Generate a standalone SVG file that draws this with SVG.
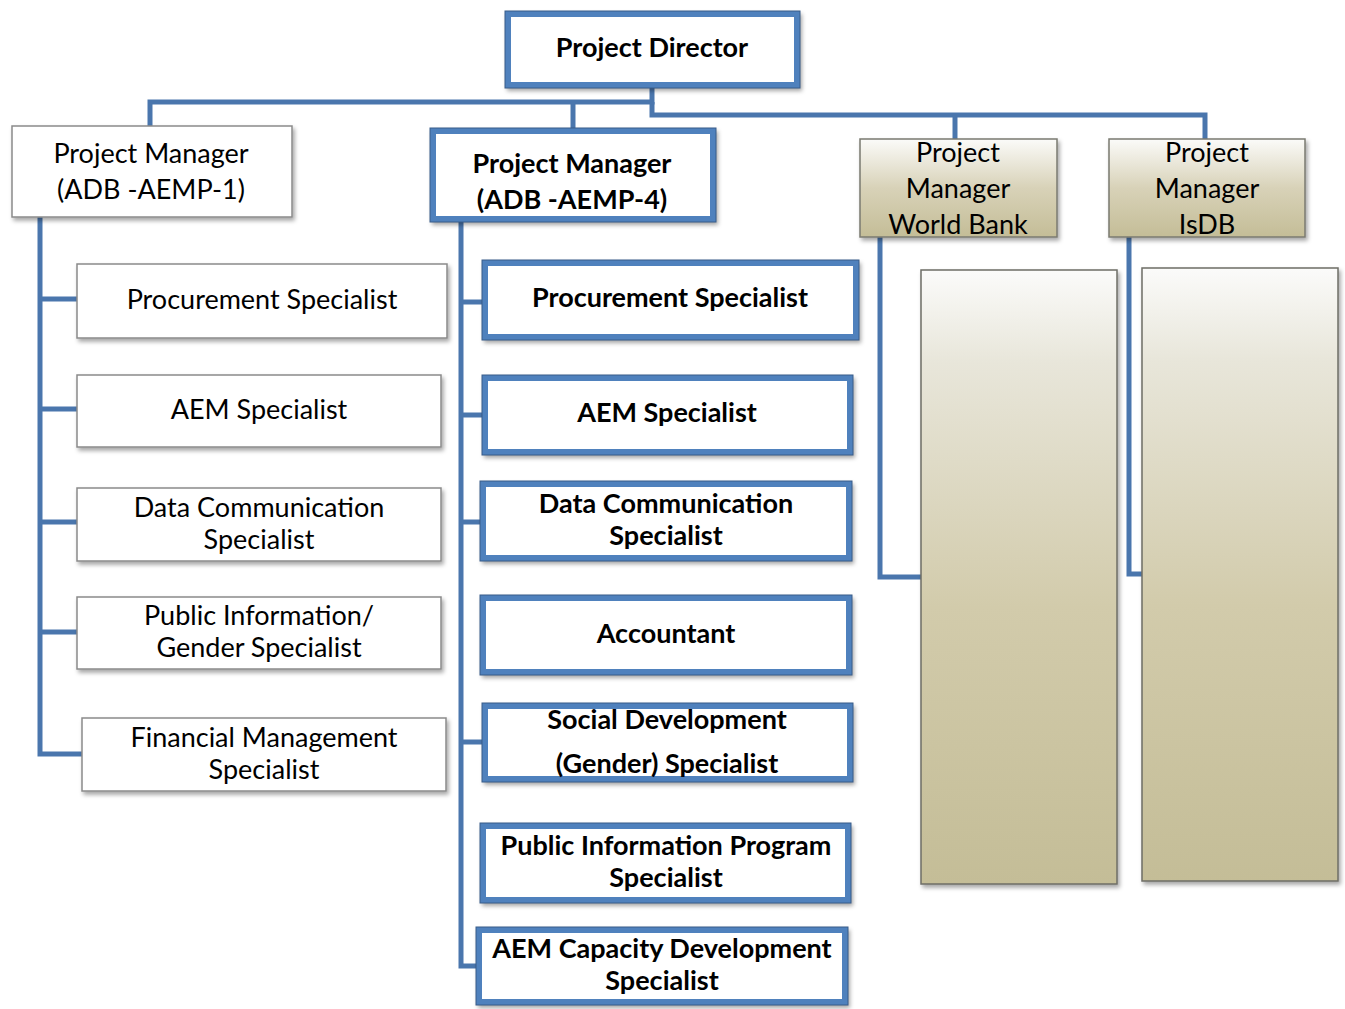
<svg xmlns="http://www.w3.org/2000/svg" width="1345" height="1009" viewBox="0 0 1345 1009">
<defs>
<filter id="sh" x="-10%" y="-10%" width="130%" height="140%">
<feDropShadow dx="2" dy="3" stdDeviation="2" flood-color="#000" flood-opacity="0.35"/>
</filter>
<linearGradient id="tan" x1="0" y1="0" x2="0" y2="1">
<stop offset="0" stop-color="#fbfbf9"/>
<stop offset="0.5" stop-color="#d8d2b8"/>
<stop offset="1" stop-color="#c4bd97"/>
</linearGradient>
<linearGradient id="tan2" x1="0" y1="0" x2="0" y2="1">
<stop offset="0" stop-color="#fbfbfa"/>
<stop offset="0.15" stop-color="#e8e6da"/>
<stop offset="0.55" stop-color="#d2cbab"/>
<stop offset="1" stop-color="#c4bd97"/>
</linearGradient>
</defs>
<style>
.plain{fill:#fff;stroke:#8a8a8a;stroke-width:1.5;filter:url(#sh)}
.blue{fill:#fff;stroke:#4f81bd;stroke-width:6;filter:url(#sh)}
.blueo{fill:none;stroke:#385d8a;stroke-width:1}
.tanb{fill:url(#tan);stroke:#7a7a70;stroke-width:1.5;filter:url(#sh)}
.tanc{fill:url(#tan2);stroke:#6e6e66;stroke-width:1.5;filter:url(#sh)}
.t{font-family:Lato,"Open Sans",sans-serif;font-size:27px;fill:#000;text-anchor:middle}
.b{font-family:Lato,"Open Sans",sans-serif;font-size:27px;font-weight:bold;fill:#000;text-anchor:middle}
.c{fill:none;stroke:#4a76ad;stroke-width:5}
</style>
<g id="connectors">
<path class="c" d="M652,88 V102 H150 V126"/>
<path class="c" d="M573,102 V128"/>
<path class="c" d="M652,102 V115 H1205 V139"/>
<path class="c" d="M955,115 V139"/>
<path class="c" d="M40,217 V754 H82"/>
<path class="c" d="M40,299 H77 M40,409 H77 M40,522 H77 M40,632 H77"/>
<path class="c" d="M461,222 V966 H476"/>
<path class="c" d="M461,302 H482 M461,415 H482 M461,522 H480 M461,742 H482"/>
<path class="c" d="M880,237 V577 H921"/>
<path class="c" d="M1129,237 V574 H1142"/>
</g>
<g id="director">
<rect class="blue" x="508" y="14" width="289" height="71"/>
<rect class="blueo" x="505" y="11" width="295" height="77"/>
<text class="b" x="652" y="57">Project Director</text>
</g>
<g id="pm1">
<rect class="plain" x="12" y="126" width="280" height="91"/>
<text class="t" x="151" y="163">Project Manager</text>
<text class="t" x="151" y="199">(ADB -AEMP-1)</text>
</g>
<g id="pm4">
<rect class="blue" x="433" y="131" width="280" height="88"/>
<rect class="blueo" x="430" y="128" width="286" height="94"/>
<text class="b" x="572" y="173">Project Manager</text>
<text class="b" x="572" y="209">(ADB -AEMP-4)</text>
</g>
<g id="pmwb">
<rect class="tanb" x="860" y="139" width="197" height="98"/>
<text class="t" x="958" y="162">Project</text>
<text class="t" x="958" y="198">Manager</text>
<text class="t" x="958" y="234">World Bank</text>
</g>
<g id="pmisdb">
<rect class="tanb" x="1109" y="139" width="196" height="98"/>
<text class="t" x="1207" y="162">Project</text>
<text class="t" x="1207" y="198">Manager</text>
<text class="t" x="1207" y="234">IsDB</text>
</g>
<g id="wbbox"><rect class="tanc" x="921" y="270" width="196" height="614"/></g>
<g id="isdbbox"><rect class="tanc" x="1142" y="268" width="196" height="613"/></g>
<g id="l-proc">
<rect class="plain" x="77" y="264" width="370" height="74"/>
<text class="t" x="262" y="309">Procurement Specialist</text>
</g>
<g id="l-aem">
<rect class="plain" x="77" y="375" width="364" height="72"/>
<text class="t" x="259" y="419">AEM Specialist</text>
</g>
<g id="l-data">
<rect class="plain" x="77" y="488" width="364" height="73"/>
<text class="t" x="259" y="517">Data Communication</text>
<text class="t" x="259" y="549">Specialist</text>
</g>
<g id="l-pub">
<rect class="plain" x="77" y="597" width="364" height="72"/>
<text class="t" x="259" y="625">Public Information/</text>
<text class="t" x="259" y="657">Gender Specialist</text>
</g>
<g id="l-fin">
<rect class="plain" x="82" y="718" width="364" height="73"/>
<text class="t" x="264" y="747">Financial Management</text>
<text class="t" x="264" y="779">Specialist</text>
</g>
<g id="m-proc">
<rect class="blue" x="485" y="263" width="371" height="74"/>
<rect class="blueo" x="482" y="260" width="377" height="80"/>
<text class="b" x="670" y="307">Procurement Specialist</text>
</g>
<g id="m-aem">
<rect class="blue" x="485" y="378" width="365" height="74"/>
<rect class="blueo" x="482" y="375" width="371" height="80"/>
<text class="b" x="667" y="422">AEM Specialist</text>
</g>
<g id="m-data">
<rect class="blue" x="483" y="484" width="366" height="74"/>
<rect class="blueo" x="480" y="481" width="372" height="80"/>
<text class="b" x="666" y="513">Data Communication</text>
<text class="b" x="666" y="545">Specialist</text>
</g>
<g id="m-acc">
<rect class="blue" x="483" y="598" width="366" height="74"/>
<rect class="blueo" x="480" y="595" width="372" height="80"/>
<text class="b" x="666" y="643">Accountant</text>
</g>
<g id="m-soc">
<rect class="blue" x="485" y="706" width="365" height="73"/>
<rect class="blueo" x="482" y="703" width="371" height="79"/>
<text class="b" x="667" y="729">Social Development</text>
<text class="b" x="667" y="773">(Gender) Specialist</text>
</g>
<g id="m-pip">
<rect class="blue" x="483" y="826" width="365" height="74"/>
<rect class="blueo" x="480" y="823" width="371" height="80"/>
<text class="b" x="666" y="855">Public Information Program</text>
<text class="b" x="666" y="887">Specialist</text>
</g>
<g id="m-cap">
<rect class="blue" x="479" y="930" width="366" height="72"/>
<rect class="blueo" x="476" y="927" width="372" height="78"/>
<text class="b" x="662" y="958">AEM Capacity Development</text>
<text class="b" x="662" y="990">Specialist</text>
</g>
</svg>
